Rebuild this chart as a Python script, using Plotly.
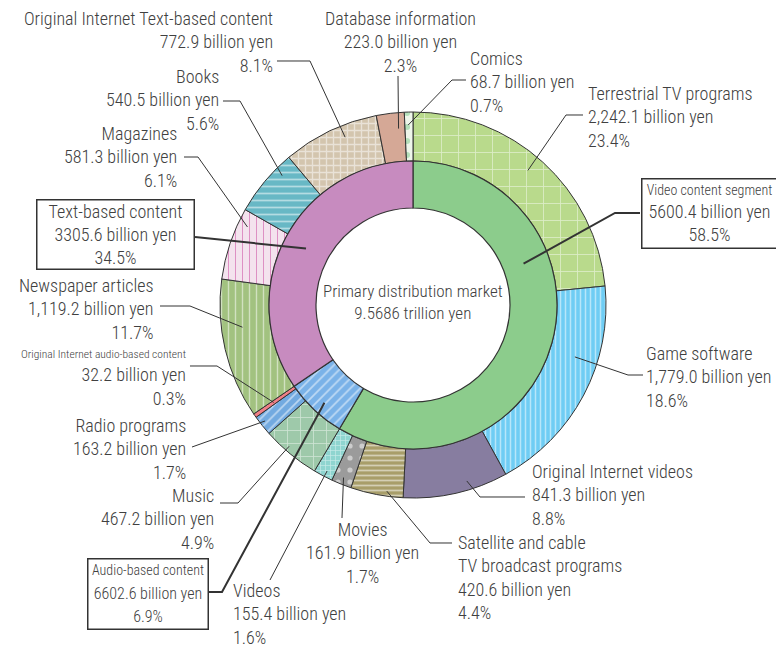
import math
import plotly.graph_objects as go

# ---------------- data ----------------
outer_labels = ["Terrestrial TV programs", "Game software", "Original Internet videos",
                "Satellite and cable TV broadcast programs", "Movies", "Videos",
                "Music", "Radio programs", "Original Internet audio-based content",
                "Newspaper articles", "Magazines", "Books",
                "Original Internet Text-based content", "Database information", "Comics"]
outer_values = [2242.1, 1779.0, 841.3, 420.6, 161.9, 155.4,
                467.2, 163.2, 32.2,
                1119.2, 581.3, 540.5, 772.9, 223.0, 68.7]
outer_value_text = ["2,242.1", "1,779.0", "841.3", "420.6", "161.9", "155.4",
                    "467.2", "163.2", "32.2",
                    "1,119.2", "581.3", "540.5", "772.9", "223.0", "68.7"]
outer_pct = ["23.4%", "18.6%", "8.8%", "4.4%", "1.7%", "1.6%",
             "4.9%", "1.7%", "0.3%",
             "11.7%", "6.1%", "5.6%", "8.1%", "2.3%", "0.7%"]

inner_labels = ["Video content segment", "Audio-based content", "Text-based content"]
inner_values = [5600.4, 662.6, 3305.6]
inner_value_text = ["5600.4", "6602.6", "3305.6"]
inner_pct = ["58.5%", "6.9%", "34.5%"]

center_title = "Primary distribution market"
center_total = "9.5686 trillion yen"

# ---------------- styles ----------------
W, H = 784, 651
OFF = 8  # page body margin
CX, CY = 413, 305
R_OUT, R_MID, R_IN = 193, 144, 97

outer_colors = ["#b9da8c", "#6fcdf4", "#877da0", "#a89e6a", "#9b9b9b", "#8fd5d0",
                "#9ec9aa", "#72aae0", "#f07f86",
                "#a2c280", "#f4e3ee", "#68b8c5", "#d3c5ae", "#d5a896", "#eef6ea"]
outer_shapes = ["+", "|", "", "-", ".", "+",
                "+", "/", "",
                "|", "|", "-", "+", "", "."]
outer_sizes = [17, 5, 8, 5, 12, 5,
               13, 7, 8,
               7, 7, 7, 7, 8, 14]
outer_solid = [0.1, 0.3, 0.3, 0.35, 0.15, 0.25,
               0.12, 0.25, 0.3,
               0.2, 0.15, 0.25, 0.35, 0.3, 0.15]
outer_fg = ["white", "white", "white", "white", "white", "white",
            "white", "white", "white",
            "white", "#c8409a", "white", "white", "white", "#7cc98a"]

inner_colors = ["#8ccc8c", "#7ab2e8", "#c78bbf"]
inner_shapes = ["", "/", ""]

FONT = "Roboto Condensed, Liberation Sans Narrow, sans-serif"
TXT = "#404040"
LINE = "#333333"
FS = 18


def px(x):
    return (x - OFF) / W


def py(y):
    return 1 - (y - OFF) / H


fig = go.Figure()

fig.add_trace(go.Pie(
    values=outer_values, labels=outer_labels, sort=False, direction="clockwise",
    rotation=0, hole=R_MID / R_OUT, textinfo="none", hoverinfo="skip",
    domain=dict(x=[px(CX - R_OUT), px(CX + R_OUT)], y=[py(CY + R_OUT), py(CY - R_OUT)]),
    marker=dict(colors=outer_colors, line=dict(color=LINE, width=1),
                pattern=dict(shape=outer_shapes, size=outer_sizes, solidity=outer_solid,
                             fgcolor=outer_fg, bgcolor=outer_colors, fillmode="overlay")),
    showlegend=False,
))
fig.add_trace(go.Pie(
    values=inner_values, labels=inner_labels, sort=False, direction="clockwise",
    rotation=0, hole=R_IN / R_MID, textinfo="none", hoverinfo="skip",
    domain=dict(x=[px(CX - R_MID), px(CX + R_MID)], y=[py(CY + R_MID), py(CY - R_MID)]),
    marker=dict(colors=inner_colors, line=dict(color=LINE, width=1.2),
                pattern=dict(shape=inner_shapes, size=[8, 7, 8], solidity=[0.3, 0.25, 0.3],
                             fgcolor=["white"] * 3, bgcolor=inner_colors, fillmode="overlay")),
    showlegend=False,
))


def slice_point(values, idx, frac, r):
    tot = sum(values)
    start = sum(values[:idx])
    a = (start + frac * values[idx]) / tot * 2 * math.pi
    return CX + r * math.sin(a), CY - r * math.cos(a)


shapes = []


def leader(points, width=1):
    d = "M " + " L ".join(f"{px(x):.5f},{py(y):.5f}" for x, y in points)
    shapes.append(dict(type="path", path=d, xref="paper", yref="paper",
                       line=dict(color=LINE, width=width)))


annotations = []


def label(x, y, text, xanchor, align, size=FS, box=None):
    a = dict(x=px(x), y=py(y), xref="paper", yref="paper", text=text, showarrow=False,
             xanchor=xanchor, yanchor="middle", align=align,
             font=dict(family=FONT, size=size, color=TXT, weight=300))
    if box:
        a.update(width=box[0], height=box[1], bordercolor=LINE, borderwidth=1.5,
                 borderpad=2, bgcolor="white", valign="middle")
    annotations.append(a)


def otext(i, name=None):
    nm = name if name is not None else outer_labels[i]
    return f"{nm}<br>{outer_value_text[i]} billion yen<br>{outer_pct[i]}"


# outer labels: (index, label anchor x, y, xanchor, leader path from label, frac, radius)
cfg = [
    (0, 586, 117, "left", [(583, 115), (566, 115)], 0.48, 177),
    (1, 644, 377, "left", [(643, 375), (628, 375)], 0.35, 170),
    (2, 530, 495, "left", [(525, 497), (480, 497)], 0.37, 184),
    (3, 456, 577, "left", [(452, 543), (430, 543)], 0.32, 188),
    (4, 362, 553, "center", [(342, 518)], 0.52, 186),
    (5, 231, 614, "left", [(270, 580)], 0.43, 187),
    (6, 216, 519, "right", [(220, 503), (238, 503)], 0.6, 188),
    (7, 188, 449, "right", [(192, 447)], 0.59, 188),
    (8, 188, 378, "right", [(190, 366), (217, 366)], 0.5, 170),
    (9, 156, 309, "right", [(160, 306), (190, 306)], 0.64, 172),
    (10, 179, 157, "right", [(184, 157), (198, 157)], 0.8, 183),
    (11, 221, 100, "right", [(223, 101), (240, 101)], 0.74, 184),
    (12, 275, 42, "right", [(277, 61), (310, 61)], 0.62, 181),
    (13, 400, 42, "center", [(398, 76)], 0.75, 177),
    (14, 468, 82, "left", [(466, 80), (452, 80)], 0.4, 180),
]

for i, x, y, xa, path, frac, r in cfg:
    end = slice_point(outer_values, i, frac, r)
    leader(path + [end])
    if i == 3:
        txt = ("Satellite and cable<br>TV broadcast programs<br>"
               f"{outer_value_text[i]} billion yen<br>{outer_pct[i]}")
    elif i == 8:
        txt = (f"<span style='font-size:11.5px'>{outer_labels[i]}</span><br>"
               f"{outer_value_text[i]} billion yen<br>{outer_pct[i]}")
    else:
        txt = otext(i)
    label(x, y, txt, xa, xa)

# inner boxes: (index, cx, cy, box, leader path, frac, radius, title size, body size)
inner_cfg = [
    (0, 709, 213, (130, 64), [(640, 213), (615, 213)], 0.33, 118, 14, FS),
    (1, 148, 594, (115, 65), [(209, 592), (222, 592)], 0.46, 132, 14, 16),
    (2, 115.5, 234.5, (152, 64), [(195, 237)], 0.5, 121, FS, FS),
]
for i, x, y, box, path, frac, r, fs, bs in inner_cfg:
    end = slice_point(inner_values, i, frac, r)
    leader(path + [end], width=2)
    txt = (f"<span style='font-size:{fs}px'>{inner_labels[i]}</span><br>"
           f"<span style='font-size:{bs}px'>{inner_value_text[i]} billion yen</span><br>"
           f"<span style='font-size:{bs}px'>{inner_pct[i]}</span>")
    label(x, y, txt, "center", "center", box=box)

label(CX, 302, f"{center_title}<br>{center_total}", "center", "center", size=17)

fig.update_layout(
    width=W, height=H, margin=dict(l=0, r=0, t=0, b=0),
    paper_bgcolor="white", plot_bgcolor="white",
    shapes=shapes, annotations=annotations,
)

fig.write_html("out.html")
